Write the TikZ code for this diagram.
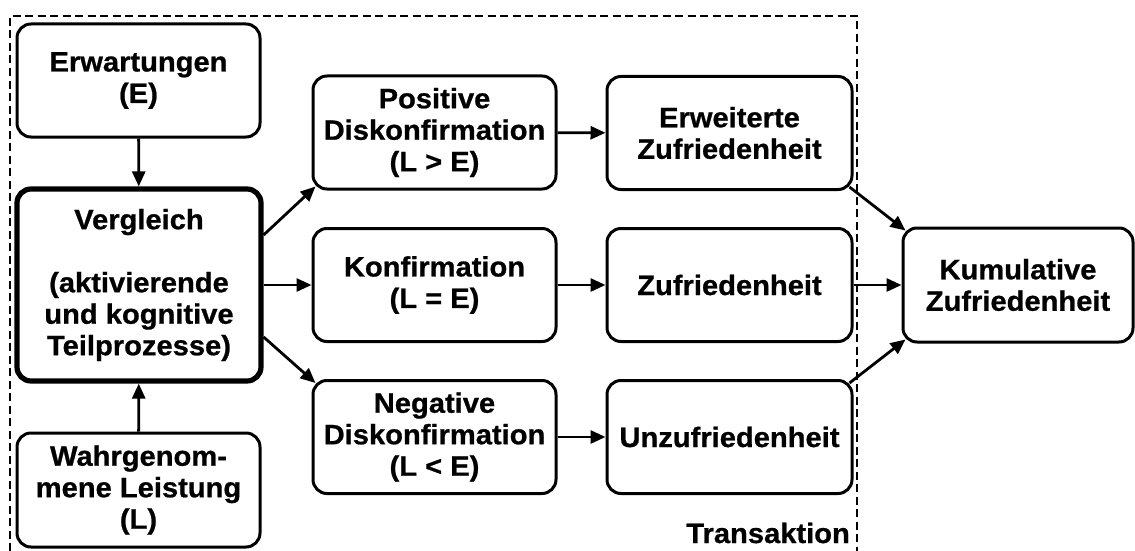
\documentclass[tikz,border=0pt]{standalone}
\usepackage{fontspec}
\setmainfont{Liberation Sans}[BoldFeatures={FakeStretch=1.04,FakeBold=0.8}]
\usetikzlibrary{arrows.meta,calc}

\tikzset{
  txt/.style={font=\bfseries\fontsize{28}{31.5}\selectfont},
  box/.style={draw, txt, line width=3pt, rounded corners=14pt, align=center,
    inner sep=0pt},
  stdbox/.style={box, minimum width=243pt, minimum height=113pt},
  mainbox/.style={box, line width=5.2pt, minimum width=244pt, minimum height=192pt},
  conn/.style={line width=2.8pt, -{Triangle[length=15pt,width=13pt]}},
  frame/.style={line width=2.8pt, dash pattern=on 8pt off 4.5pt},
}

\begin{document}
\begin{tikzpicture}[x=1pt, y=-1pt]
  \useasboundingbox (0,0) rectangle (1135,551);

  % transaction frame (open at the bottom)
  \draw[frame] (10,551) -- (10,16) -- (857,16) -- (857,551);
  \node[txt, anchor=base east, inner sep=0pt] (trans) at (850,543) {Transaktion};

  % left column
  \node[stdbox] (E) at (138.5,80.5) {Erwartungen\\(E)};
  \node[mainbox] (V) at (139,285) {Vergleich\\[31.5pt](aktivierende\\und kognitive\\Teilprozesse)};
  \node[stdbox, minimum height=114pt] (L) at (138.5,490) {Wahrgenom-\\mene Leistung\\(L)};

  % disconfirmation column
  \node[stdbox] (P) at (434.5,132.5) {Positive\\Diskonfirmation\\(L > E)};
  \node[stdbox] (K) at (434.5,285) {Konfirmation\\(L = E)};
  \node[stdbox] (N) at (434.5,437) {Negative\\Diskonfirmation\\(L < E)};

  % satisfaction column
  \node[stdbox, minimum width=245pt] (EZ) at (729.5,133) {Erweiterte\\Zufriedenheit};
  \node[stdbox, minimum width=245pt] (Z) at (729.5,285) {Zufriedenheit};
  \node[stdbox, minimum width=245pt] (U) at (729.5,437) {Unzufriedenheit};

  % cumulative result
  \node[stdbox, minimum width=230pt, minimum height=114pt] (KZ) at (1018,285) {Kumulative\\Zufriedenheit};

  % connectors
  \draw[conn] (E) -- (V);
  \draw[conn] (L) -- (V);
  \draw[conn] ($(V.east)+(0,-50)$) -- ($(P.south west)+(4,-4)$);
  \draw[conn] (V.east) -- (K.west);
  \draw[conn] ($(V.east)+(0,52)$) -- ($(N.north west)+(4,4)$);
  \draw[conn] (P) -- (EZ);
  \draw[conn] (K) -- (Z);
  \draw[conn] (N) -- (U);
  \draw[conn] ($(EZ.south east)+(-4,-4)$) -- ($(KZ.north west)+(4,4)$);
  \draw[conn] (Z) -- (KZ);
  \draw[conn] ($(U.north east)+(-4,4)$) -- ($(KZ.south west)+(4,-4)$);
\end{tikzpicture}
\end{document}
